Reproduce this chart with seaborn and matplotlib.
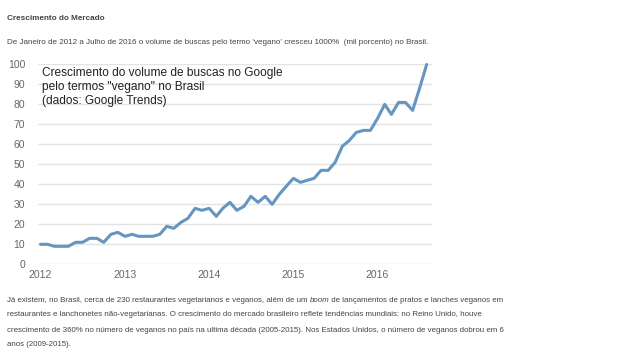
import pandas as pd
import numpy as np
import matplotlib
matplotlib.use("Agg")
import matplotlib.pyplot as plt
import seaborn as sns

# dados (Google Trends, mensal, jan/2012 - ago/2016)
inicio = "2012-01-01"
volume = [10, 10, 9, 9, 9, 11, 11, 13, 13, 11, 15, 16,
          14, 15, 14, 14, 14, 15, 19, 18, 21, 23, 28, 27,
          28, 24, 28, 31, 27, 29, 34, 31, 34, 30, 35, 39,
          43, 41, 42, 43, 47, 47, 51, 59, 62, 66, 67, 67,
          73, 80, 75, 81, 81, 77, 88, 100]
anos = ["2012", "2013", "2014", "2015", "2016"]
y_ticks = [0, 10, 20, 30, 40, 50, 60, 70, 80, 90, 100]

titulo = "Crescimento do Mercado"
subtitulo = ("De Janeiro de 2012 a Julho de 2016 o volume de buscas pelo termo 'vegano' "
             "cresceu 1000%  (mil porcento) no Brasil.")
nota = ('Crescimento do volume de buscas no Google\n'
        'pelo termos "vegano" no Brasil\n'
        '(dados: Google Trends)')

df = pd.DataFrame({"data": pd.date_range(inicio, periods=len(volume), freq="MS"),
                   "volume": volume})

sns.set_style("white")
plt.rcParams["font.family"] = ["Liberation Sans", "DejaVu Sans"]

fig = plt.figure(figsize=(6.4, 3.55), dpi=100)
ax = fig.add_axes([0.059, 0.2555, 0.616, 0.563])

sns.lineplot(data=df, x="data", y="volume", ax=ax, color="#6596c2",
             linewidth=2.2, clip_on=False)

ax.set_ylim(0, 100)
ax.set_xlim(pd.Timestamp("2011-12-20"), pd.Timestamp("2016-08-24"))
ax.set_yticks(y_ticks)
ax.set_xticks([pd.Timestamp(a + "-01-01") for a in anos])
ax.set_xticklabels(anos)
ax.yaxis.grid(True, color="#e3e3e3", linewidth=1)
ax.xaxis.grid(False)
ax.set_axisbelow(True)
for s in ax.spines.values():
    s.set_visible(False)
ax.tick_params(axis="both", length=0, labelsize=7.5, labelcolor="#666666")
ax.tick_params(axis="y", pad=9)
ax.tick_params(axis="x", pad=4)
ax.set_xlabel("")
ax.set_ylabel("")

ax.text(0.012, 0.985, nota, transform=ax.transAxes, va="top", ha="left",
        fontsize=8.6, color="#222222", linespacing=1.2)

# textos da pagina
fig.text(7 / 640, 1 - 19 / 355, titulo, fontsize=5.9, fontweight="bold",
         color="#444444", va="center")
fig.text(7 / 640, 1 - 42 / 355, subtitulo, fontsize=5.8, color="#444444", va="center")

paragrafo = [
    [("Já existem, no Brasil, cerca de 230 restaurantes vegetarianos e veganos, além de um ", "normal"),
     ("boom", "italic"),
     (" de lançamentos de pratos e lanches veganos em", "normal")],
    [("restaurantes e lanchonetes não-vegetarianas. O crescimento do mercado brasileiro reflete "
      "tendências mundiais: no Reino Unido, houve", "normal")],
    [("crescimento de 360% no número de veganos no país na ultima década (2005-2015). Nos Estados "
      "Unidos, o número de veganos dobrou em 6", "normal")],
    [("anos (2009-2015).", "normal")],
]
linhas_y = [300, 315, 330, 345]

renderer = fig.canvas.get_renderer()
for partes, ypx in zip(paragrafo, linhas_y):
    x = 7 / 640
    for txt, estilo in partes:
        t = fig.text(x, 1 - ypx / 355, txt, fontsize=5.7, style=estilo,
                     color="#444444", va="center")
        bb = t.get_window_extent(renderer=renderer)
        x = bb.x1 / fig.bbox.width

fig.savefig("out.png", dpi=100)
